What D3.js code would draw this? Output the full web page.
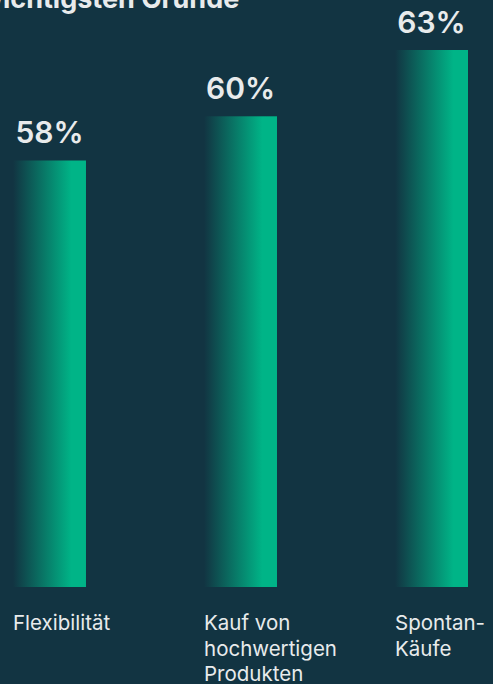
<!DOCTYPE html>
<html>
<head>
<meta charset="utf-8">
<script src="https://cdn.jsdelivr.net/npm/d3@7"></script>
<style>
  html, body { margin: 0; padding: 0; background: #123442; }
  svg { display: block; }
  text { font-family: Inter, "Liberation Sans", sans-serif; fill: #e8ebec; }
</style>
</head>
<body>
<div id="chart"></div>
<script>
// Data
const categories = ["Flexibilität", "Kauf von hochwertigen Produkten", "Spontan-Käufe"];
const labelLines = [["Flexibilität"], ["Kauf von", "hochwertigen", "Produkten"], ["Spontan-", "Käufe"]];
const values = [58, 60, 63];
const title = "wichtigsten Gründe";

const width = 493;
const height = 684;
const baseY = 587;

const svg = d3.select("#chart").append("svg")
    .attr("width", width)
    .attr("height", height);

// Horizontal gradient: background on the left, green on the right
const grad = svg.append("defs").append("linearGradient")
    .attr("id", "barGrad")
    .attr("x1", "0%").attr("x2", "100%")
    .attr("y1", "0%").attr("y2", "0%");
grad.append("stop").attr("offset", "0%").attr("stop-color", "#123442");
grad.append("stop").attr("offset", "80%").attr("stop-color", "#00b487");
grad.append("stop").attr("offset", "100%").attr("stop-color", "#00b487");

const x = d3.scaleBand()
    .domain(categories)
    .range([13, 468])
    .paddingInner(0.618)
    .paddingOuter(0);

const y = d3.scaleLinear()
    .domain([38.7, 63])
    .range([baseY, 50]);

// Title (cut off at the top in the original)
svg.append("text")
    .attr("x", -20)
    .attr("y", 8)
    .attr("font-size", 27)
    .attr("font-weight", 700)
    .text(title);

// Bars
svg.selectAll("rect.bar")
    .data(values)
    .enter()
    .append("rect")
    .attr("class", "bar")
    .attr("x", (d, i) => x(categories[i]))
    .attr("y", d => y(d))
    .attr("width", x.bandwidth())
    .attr("height", d => baseY - y(d))
    .attr("fill", "url(#barGrad)");

// Value labels
svg.selectAll("text.value")
    .data(values)
    .enter()
    .append("text")
    .attr("class", "value")
    .attr("x", (d, i) => x(categories[i]) + x.bandwidth() / 2)
    .attr("y", d => y(d) - 17)
    .attr("text-anchor", "middle")
    .attr("font-size", 30)
    .attr("font-weight", 600)
    .text(d => d + "%");

// Category labels
const cat = svg.selectAll("text.cat")
    .data(labelLines)
    .enter()
    .append("text")
    .attr("class", "cat")
    .attr("x", (d, i) => x(categories[i]))
    .attr("y", 630)
    .attr("font-size", 20.5);

cat.selectAll("tspan")
    .data(d => d)
    .enter()
    .append("tspan")
    .attr("x", function() { return d3.select(this.parentNode).attr("x"); })
    .attr("dy", (d, i) => i === 0 ? 0 : 25.5)
    .text(d => d);
</script>
</body>
</html>
